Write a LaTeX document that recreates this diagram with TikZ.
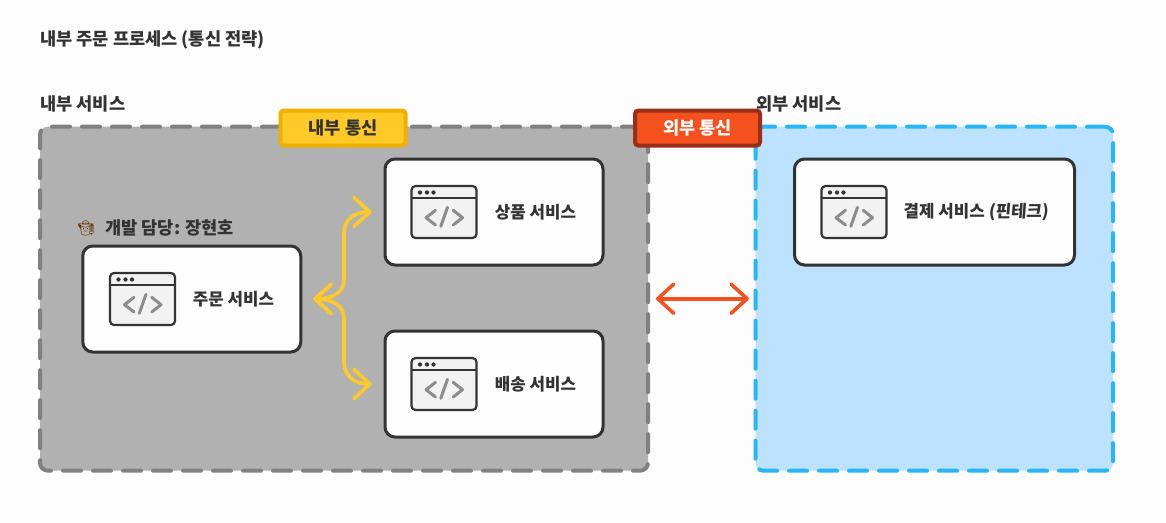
\documentclass[tikz,border=0pt]{standalone}
\usepackage{fontspec}
\usepackage{xcolor}
\usetikzlibrary{arrows.meta,positioning}
\setmainfont{Noto Sans CJK KR}
\newfontfamily\emojifont{Noto Emoji}
\newcommand{\px}{0.75pt}
\definecolor{inkdark}{HTML}{333333}
\definecolor{paper}{HTML}{FDFDFD}
\definecolor{grpgrey}{HTML}{808080}
\definecolor{grpgreyfill}{HTML}{B1B1B1}
\definecolor{grpblue}{HTML}{29B6F6}
\definecolor{grpbluefill}{HTML}{BDE2FF}
\definecolor{tagyellow}{HTML}{FFCA28}
\definecolor{tagyellowline}{HTML}{EFB000}
\definecolor{tagred}{HTML}{F4511E}
\definecolor{tagredline}{HTML}{992E1A}

\tikzset{
 svcbox/.style={draw=inkdark,fill=paper,line width=3*\px,rounded corners=7.5pt,inner sep=0pt,outer sep=0pt,minimum height=106*\px},
 grpbox/.style={line width=4*\px,rounded corners=6pt,inner sep=0pt,outer sep=0pt,minimum height=344*\px,dash pattern=on 13.5pt off 9pt,line cap=round},
 tagbox/.style={line width=4*\px,rounded corners=2.5pt,inner sep=0pt,outer sep=0pt,minimum width=125*\px,minimum height=35*\px,font=\bfseries\fontsize{13.2}{15}\selectfont},
 lbl/.style={text=inkdark,inner sep=0pt,font=\bfseries\fontsize{12.6}{14}\selectfont},
 headlbl/.style={lbl,anchor=west,font=\bfseries\fontsize{13.2}{15}\selectfont},
 linkarrow/.style={line width=3.6*\px,{Straight Barb[length=12pt,width=22pt,round]}-{Straight Barb[length=12pt,width=22pt,round]}},
 pics/codeicon/.style={code={
  \draw[draw=inkdark,fill=black!5,line width=2.2*\px,rounded corners=3pt] (-32.5,-26) rectangle (32.5,26);
  \draw[draw=inkdark,line width=2.2*\px] (-32.5,-14) -- (32.5,-14);
  \foreach \dotx in {-24,-17,-10.5} \fill[inkdark] (\dotx,-19.5) circle (1.6pt);
  \draw[draw=black!45,line width=3*\px,line cap=round,line join=round] (-8.5,-1.7) -- (-18,5.7) -- (-8.5,13);
  \draw[draw=black!45,line width=3*\px,line cap=round] (3.5,-4.7) -- (-3.2,14.3);
  \draw[draw=black!45,line width=3*\px,line cap=round,line join=round] (9.2,-1.7) -- (18.5,5.7) -- (9.2,13);
 }}
}

\begin{document}
\begin{tikzpicture}[x=\px,y=-\px]
\useasboundingbox[fill=paper] (0,0) rectangle (1166,522);

% groups
\node[grpbox,draw=grpgrey,fill=grpgreyfill,minimum width=608*\px] (inner) at (344,298.7) {};
\node[grpbox,draw=grpblue,fill=grpbluefill,minimum width=357.5*\px] (outer) at (934.25,298.7) {};

% services
\node[svcbox,minimum width=218*\px] (order) at (191.75,299) {};
\node[svcbox,minimum width=218*\px] (product) at (494,212) {};
\node[svcbox,minimum width=218*\px] (shipping) at (494,384) {};
\node[svcbox,minimum width=280*\px] (payment) at (934.5,212) {};

\pic at (142.5,299) {codeicon};
\pic at (444,212) {codeicon};
\pic at (444,384) {codeicon};
\pic at (854,212) {codeicon};

\node[lbl] (orderlbl) at (233.5,299) {주문 서비스};
\node[lbl] (productlbl) at (535.5,212) {상품 서비스};
\node[lbl] (shippinglbl) at (535.5,384) {배송 서비스};
\node[lbl] (paymentlbl) at (976,212) {결제 서비스 {\addfontfeature{FakeSlant=0.08}(핀테크)}};

% arrows
\coordinate (upa) at (344,280);
\coordinate (upb) at (344,233);
\coordinate (downa) at (344,318);
\coordinate (downb) at (344,362);
\draw[linkarrow,draw=tagyellow,shorten <=9.5pt,shorten >=10pt] (order.east) .. controls +(32,0) and +(0,12) .. (upa) -- (upb) .. controls +(0,-14) and +(-30,0) .. (product.west);
\draw[linkarrow,draw=tagyellow,shorten <=9.5pt,shorten >=10pt] (order.east) .. controls +(32,0) and +(0,-12) .. (downa) -- (downb) .. controls +(0,14) and +(-30,0) .. (shipping.west);
\draw[linkarrow,draw=tagred,shorten <=6pt,shorten >=5pt] (inner.east) -- (outer.west);

% tags
\node[tagbox,draw=tagyellowline,fill=tagyellow,text=inkdark] (innertag) at (343,128) {내부 통신};
\node[tagbox,draw=tagredline,fill=tagred,text=white] (outertag) at (697.5,128) {외부 통신};

% headings
\node[headlbl] (title) at (40,40) {내부 주문 프로세스 (통신 전략)};
\node[headlbl] (innerlbl) at (40,104) {내부 서비스};
\node[headlbl] (outerlbl) at (756,104) {외부 서비스};
\node[headlbl] (ownerlbl) at (105,228) {개발 담당: 장현호};
\node[lbl,left=7pt of ownerlbl,text=black!60!orange,font=\emojifont\fontsize{11}{13}\selectfont] (owner) {🧑‍🌾};
\end{tikzpicture}
\end{document}
